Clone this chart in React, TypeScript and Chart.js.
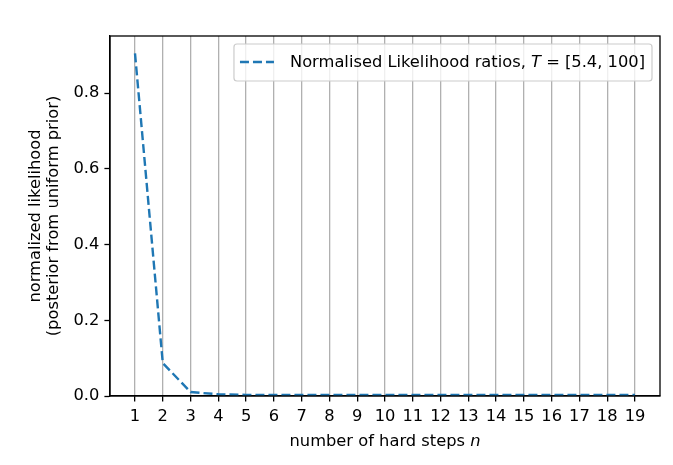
import React, { useEffect, useRef } from 'react';
import { Chart, registerables } from 'chart.js';

Chart.register(...registerables);

// number of hard steps n
const steps = [1, 2, 3, 4, 5, 6, 7, 8, 9, 10, 11, 12, 13, 14, 15, 16, 17, 18, 19];
// normalised likelihood (posterior from uniform prior)
const likelihood = [0.905, 0.087, 0.0105, 0.0045, 0.003, 0.003, 0.003, 0.003, 0.003, 0.003, 0.003, 0.003, 0.003, 0.003, 0.003, 0.003, 0.003, 0.003, 0.003];
const yTicks = [0, 0.2, 0.4, 0.6, 0.8];
const yTitle = ['normalized likelihood', '(posterior from uniform prior)'];
const xTitle = [{ text: 'number of hard steps ', italic: false }, { text: 'n', italic: true }];
const legendLabel = [
  { text: 'Normalised Likelihood ratios, ', italic: false },
  { text: 'T', italic: true },
  { text: ' = [5.4, 100]', italic: false },
];

const FAMILY = '"DejaVu Sans", sans-serif';
const SIZE = 16.3;
const BLUE = '#1f77b4';

type Part = { text: string; italic: boolean };

const richWidth = (ctx: CanvasRenderingContext2D, parts: Part[]) =>
  parts.reduce((w, p) => {
    ctx.font = `${p.italic ? 'italic ' : ''}${SIZE}px ${FAMILY}`;
    return w + ctx.measureText(p.text).width;
  }, 0);

const drawRich = (ctx: CanvasRenderingContext2D, parts: Part[], x: number, y: number) => {
  let cx = x;
  parts.forEach(p => {
    ctx.font = `${p.italic ? 'italic ' : ''}${SIZE}px ${FAMILY}`;
    ctx.fillText(p.text, cx, y);
    cx += ctx.measureText(p.text).width;
  });
};

const extrasPlugin = {
  id: 'extras',
  afterDraw(chart: Chart) {
    const { ctx, chartArea: a } = chart;
    ctx.save();
    // spines
    ctx.strokeStyle = '#000';
    ctx.lineWidth = 1.3;
    ctx.strokeRect(a.left, a.top, a.right - a.left, a.bottom - a.top);

    // x axis title
    ctx.fillStyle = '#000';
    ctx.textBaseline = 'alphabetic';
    ctx.textAlign = 'left';
    const xw = richWidth(ctx, xTitle);
    drawRich(ctx, xTitle, (a.left + a.right) / 2 - xw / 2, a.bottom + 50);

    // legend
    const tw = richWidth(ctx, legendLabel);
    const boxR = a.right - 8;
    const boxT = a.top + 8;
    const boxH = 37;
    const textX = boxR - 7 - tw;
    const boxL = textX - 56;
    const midY = boxT + boxH / 2;
    ctx.beginPath();
    ctx.roundRect(boxL, boxT, boxR - boxL, boxH, 3);
    ctx.fillStyle = 'rgba(255,255,255,0.8)';
    ctx.fill();
    ctx.strokeStyle = '#cccccc';
    ctx.lineWidth = 1.2;
    ctx.stroke();
    ctx.beginPath();
    ctx.setLineDash([9, 4]);
    ctx.strokeStyle = BLUE;
    ctx.lineWidth = 2.4;
    ctx.moveTo(textX - 50, midY - 0.5);
    ctx.lineTo(textX - 16, midY - 0.5);
    ctx.stroke();
    ctx.setLineDash([]);
    ctx.fillStyle = '#000';
    ctx.textBaseline = 'middle';
    drawRich(ctx, legendLabel, textX, midY);
    ctx.restore();
  },
};

const App: React.FC = () => {
  const canvasRef = useRef<HTMLCanvasElement>(null);

  useEffect(() => {
    const canvas = canvasRef.current;
    if (!canvas) return;
    const tickFont = { family: FAMILY, size: SIZE };
    const chart = new Chart(canvas, {
      type: 'line',
      data: {
        datasets: [
          {
            label: legendLabel.map(p => p.text).join(''),
            data: steps.map((s, i) => ({ x: s, y: likelihood[i] })),
            borderColor: BLUE,
            borderWidth: 2.4,
            borderDash: [9, 4],
            pointRadius: 0,
            tension: 0,
            fill: false,
          },
        ],
      },
      options: {
        responsive: false,
        animation: false,
        devicePixelRatio: 1,
        layout: { padding: { left: 0, right: 13, top: 36, bottom: 0 } },
        plugins: { legend: { display: false }, tooltip: { enabled: false } },
        scales: {
          x: {
            type: 'linear',
            min: 0.1,
            max: 19.9,
            afterBuildTicks: (s: any) => { s.ticks = steps.map(v => ({ value: v })); },
            afterFit: (s: any) => { s.height = 69; },
            ticks: { font: tickFont, color: '#000', padding: 5, maxRotation: 0, autoSkip: false, callback: (v: any) => String(v) },
            grid: { color: '#b0b0b0', lineWidth: 1.3, tickColor: '#000', tickLength: 5.6, tickWidth: 1.3 },
            border: { color: '#000', width: 1.3 },
          },
          y: {
            min: 0,
            max: 0.951,
            afterBuildTicks: (s: any) => { s.ticks = yTicks.map(v => ({ value: v })); },
            afterFit: (s: any) => { s.width = 110; },
            ticks: { font: tickFont, color: '#000', padding: 5, callback: (v: any) => Number(v).toFixed(1) },
            grid: { drawOnChartArea: false, tickColor: '#000', tickLength: 5.6, tickWidth: 1.3 },
            border: { color: '#000', width: 1.3 },
            title: {
              display: true,
              text: yTitle,
              color: '#000',
              font: { family: FAMILY, size: SIZE, lineHeight: 1.15 },
              padding: { top: 26, bottom: 0 },
            },
          },
        },
      },
      plugins: [extrasPlugin],
    });
    return () => chart.destroy();
  }, []);

  return (
    <div style={{ position: 'absolute', left: 0, top: 0, width: 673, height: 465, background: '#fff' }}>
      <canvas ref={canvasRef} width={673} height={465} />
    </div>
  );
};

export default App;
